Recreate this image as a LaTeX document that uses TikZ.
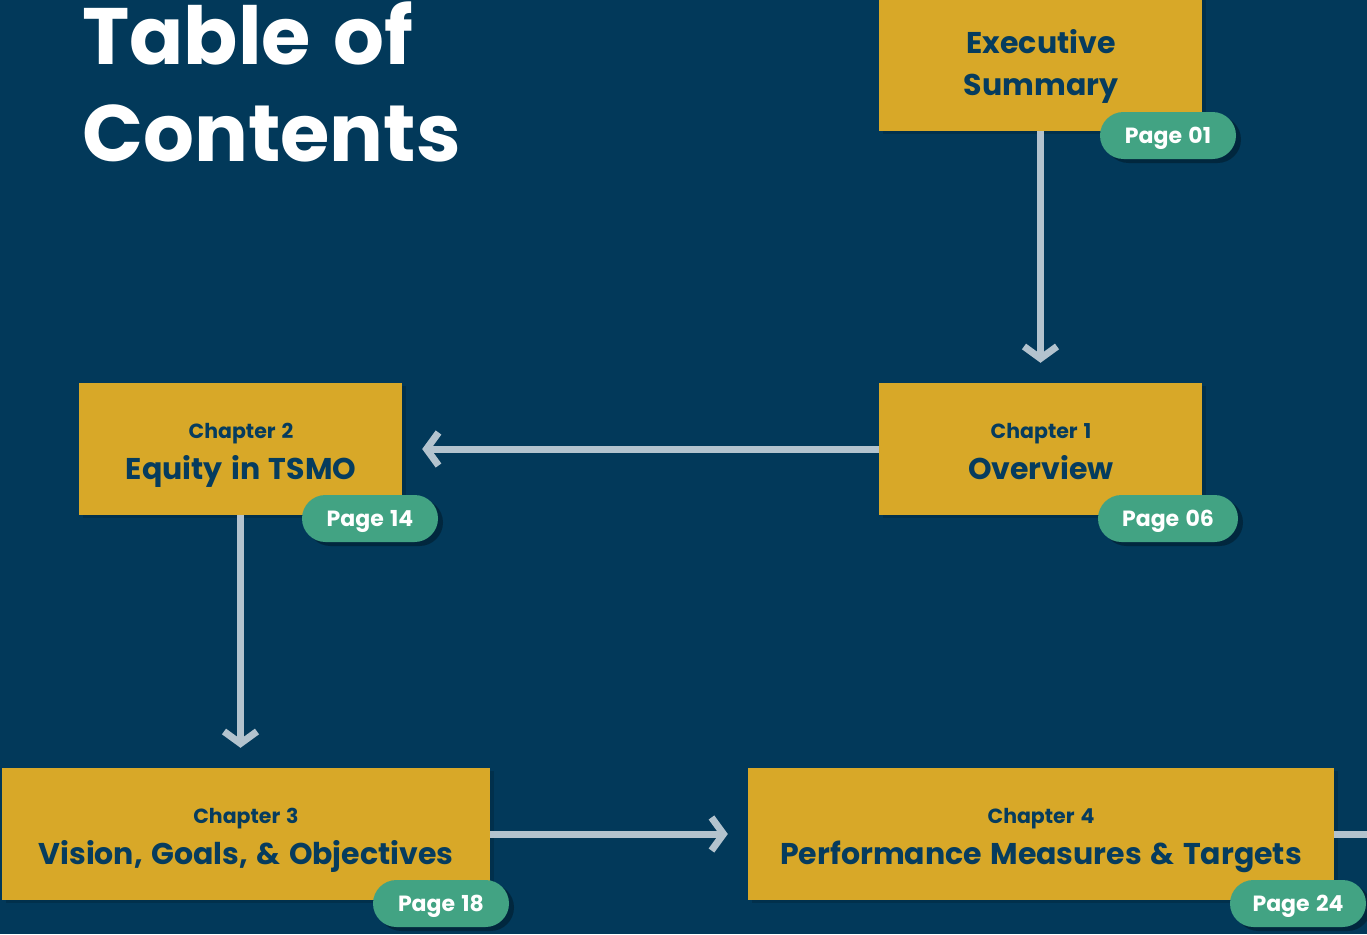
\documentclass[tikz,border=0pt]{standalone}
\usepackage{fontspec}
\setmainfont{Poppins}[WordSpace=1.35]
\usetikzlibrary{arrows.meta,shadows}

\definecolor{navy}{HTML}{02395A}
\definecolor{gold}{HTML}{D8A828}
\definecolor{ink}{HTML}{063C5E}
\definecolor{badgegreen}{HTML}{42A383}
\definecolor{arrowgray}{HTML}{B3C3CE}

\begin{document}
\begin{tikzpicture}[x=1pt,y=-1pt,
  chapbox/.style={fill=gold, draw=none, inner sep=0, minimum width=#1, minimum height=132,
    drop shadow={shadow xshift=4pt, shadow yshift=-3pt, opacity=0.15, fill=black}},
  badge/.style={fill=badgegreen, draw=none, inner sep=0, minimum width=136, minimum height=47,
    rounded corners=23.5, text=white, text height=15.4pt, text depth=0pt,
    font=\fontsize{22}{24}\selectfont\bfseries,
    drop shadow={shadow xshift=5pt, shadow yshift=-4pt, opacity=0.3, fill=black}},
  kicker/.style={text=ink, inner sep=0, anchor=base, font=\fontsize{20.5}{24}\selectfont\bfseries},
  headline/.style={text=ink, inner sep=0, anchor=base, font=\fontsize{30}{34}\selectfont\bfseries},
  flow/.style={draw=arrowgray, line width=7, shorten >=20,
    -{Straight Barb[length=12, width=33]}},
  link/.style={draw=arrowgray, line width=7},
  heading/.style={text=white, inner sep=0, anchor=base west, font=\fontsize{80}{90}\selectfont\bfseries}]

% page background
\fill[navy] (0,0) rectangle (1367,934);
\useasboundingbox (0,0) rectangle (1367,934);

% title
\node[heading] (title1) at (82,64) {Table of};
\node[heading] (title2) at (82,161) {Contents};

% chapter boxes
\node[chapbox=323, minimum height=150] (exec) at (1040.5,56) {};
\node[chapbox=323] (ch1) at (1040.5,449) {};
\node[chapbox=323] (ch2) at (240.5,449) {};
\node[chapbox=488] (ch3) at (246,834) {};
\node[chapbox=586] (ch4) at (1041,834) {};
\coordinate (edge) at (1367,834);

% connectors
\draw[flow] (exec.south) -- (ch1.north);
\draw[flow] (ch1.west) -- (ch2.east);
\draw[flow] (ch2.south) -- (ch2.south |- ch3.north);
\draw[flow] (ch3.east) -- (ch4.west);
\draw[link] (ch4.east) -- (edge);

% box titles
\node[headline] (execA) at (1041,54) {Executive};
\node[headline] (execB) at (1041,95) {Summary};
\node[kicker] (k1) at (1041,438) {Chapter 1};
\node[headline] (t1) at (1041,479) {Overview};
\node[kicker] (k2) at (241,438) {Chapter 2};
\node[headline] (t2) at (241,479) {Equity in TSMO};
\node[kicker] (k3) at (246,823) {Chapter 3};
\node[headline] (t3) at (246,864) {Vision, Goals, \& Objectives};
\node[kicker] (k4) at (1041,823) {Chapter 4};
\node[headline] (t4) at (1041,864) {Performance Measures \& Targets};

% page badges
\node[badge] (p1) at (1168,135.5) {Page 01};
\node[badge, minimum width=140] (p6) at (1168,518.5) {Page 06};
\node[badge] (p14) at (370,518.5) {Page 14};
\node[badge] (p18) at (441,903.5) {Page 18};
\node[badge] (p24) at (1298,903.5) {Page 24};
\end{tikzpicture}
\end{document}
